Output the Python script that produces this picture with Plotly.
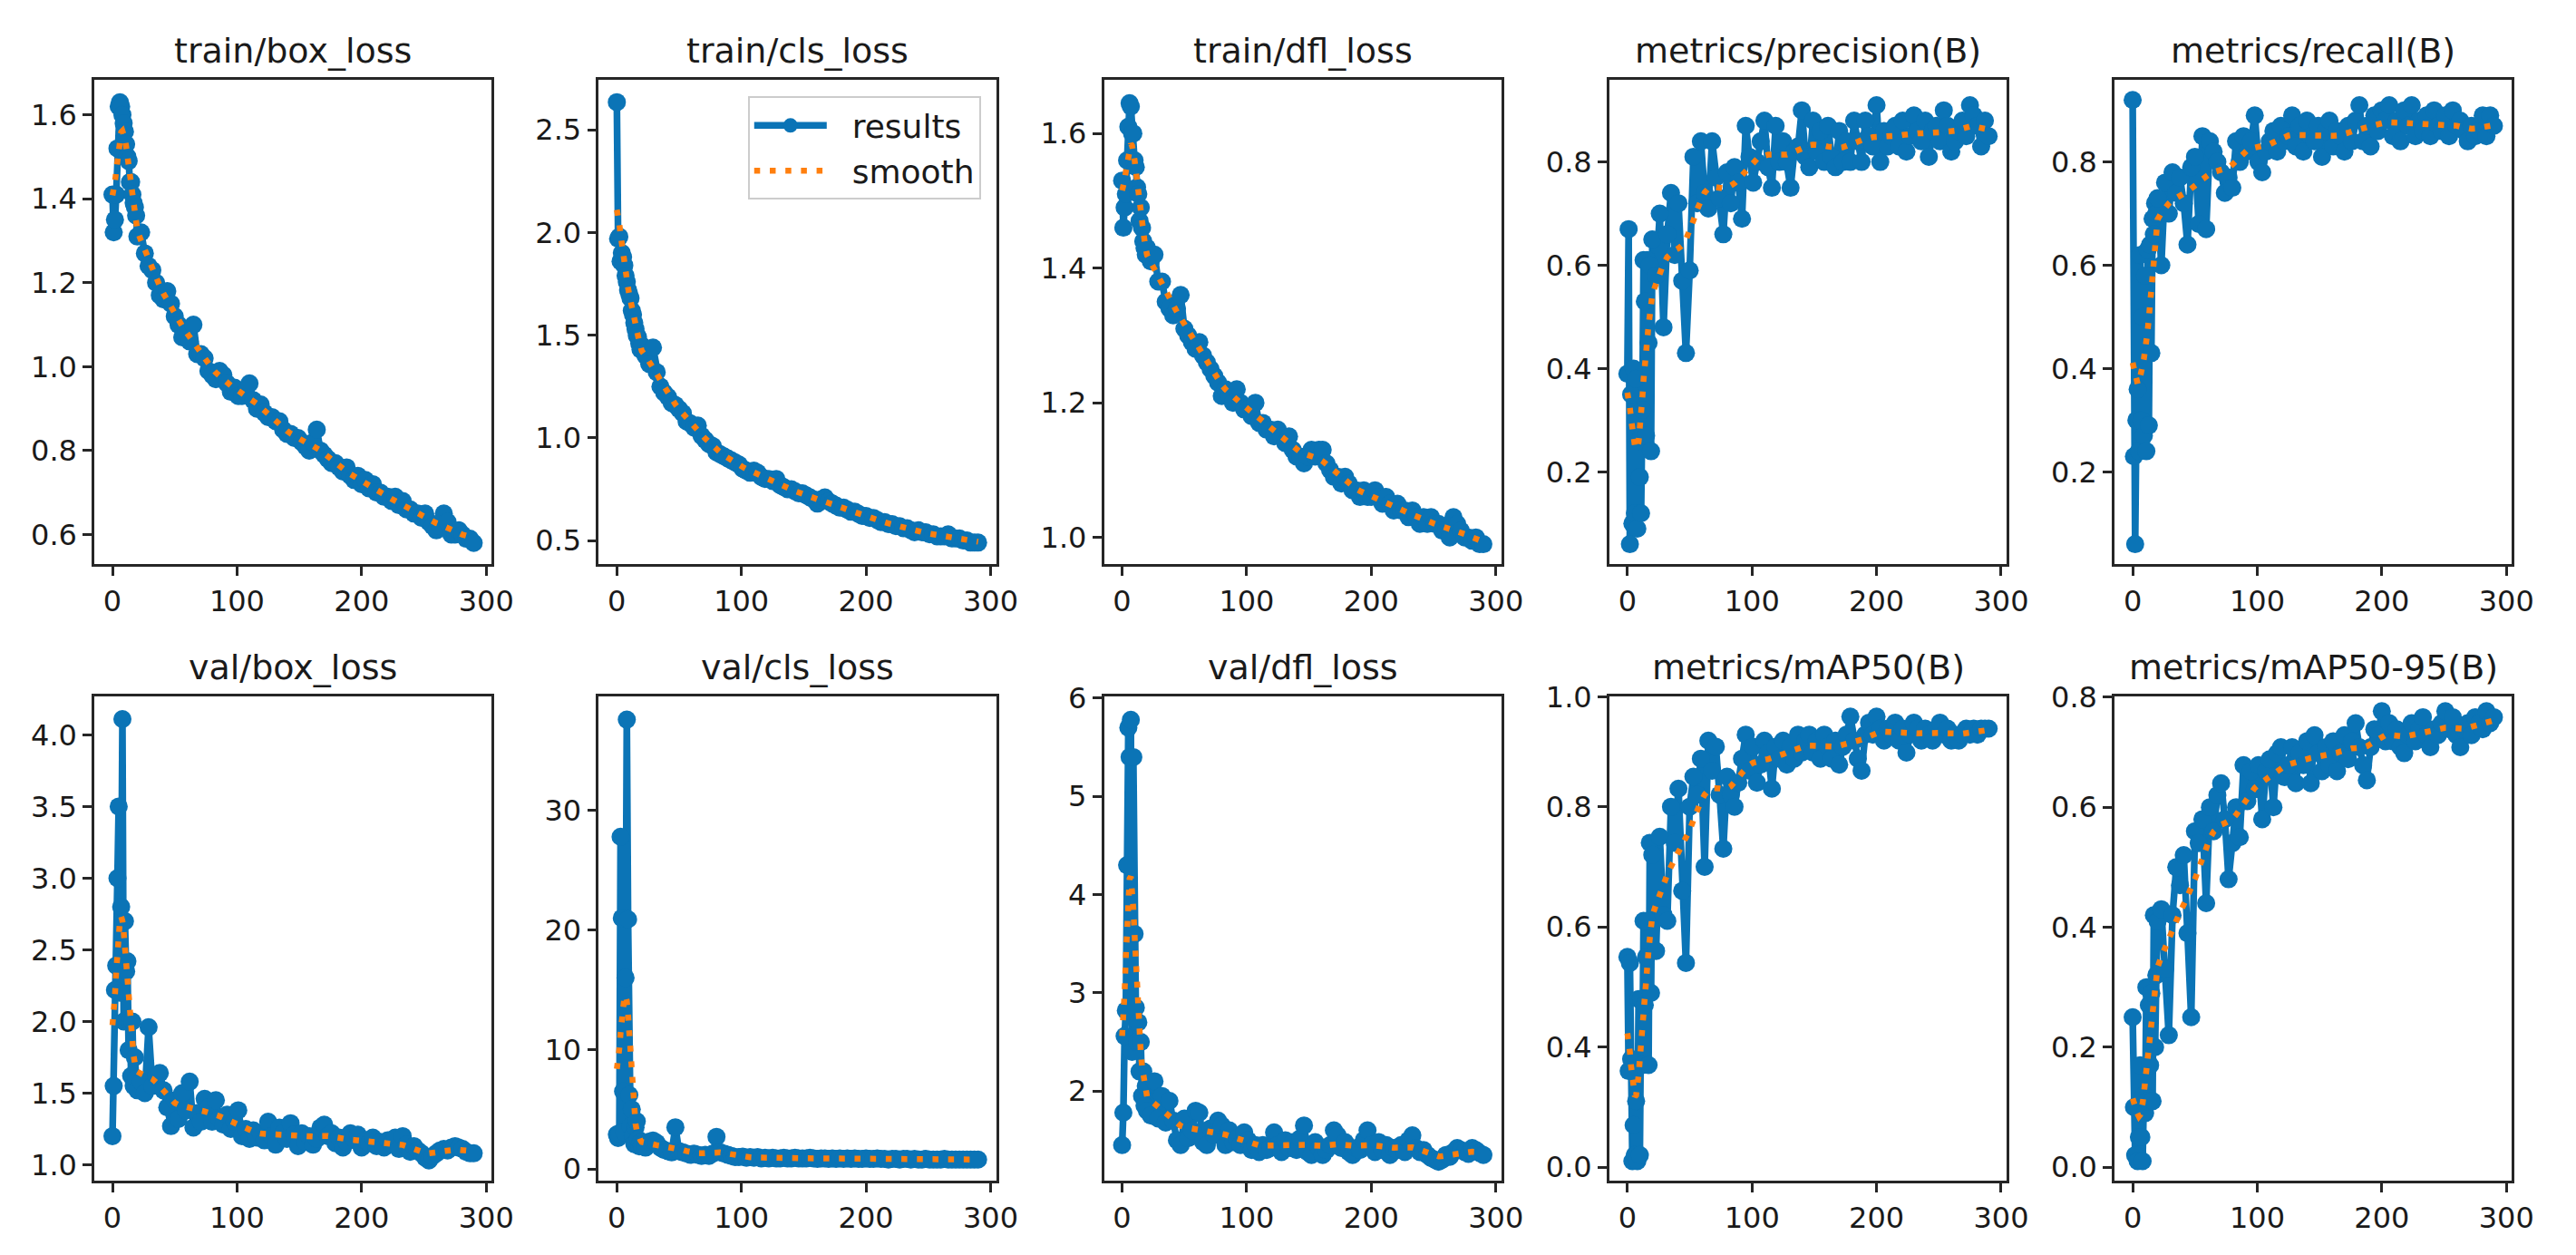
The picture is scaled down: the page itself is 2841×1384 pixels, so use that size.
import numpy as np
import plotly.graph_objects as go

epochs = list(range(0, 20)) + list(range(20, 291, 3))

train_box_loss = [
    1.41, 1.32, 1.35, 1.41, 1.52, 1.62, 1.63, 1.62, 1.60, 1.58,
    1.56, 1.53, 1.50, 1.49, 1.44, 1.44, 1.41, 1.39, 1.38, 1.36,
    1.31, 1.32, 1.27, 1.24, 1.23, 1.20, 1.17, 1.16, 1.18, 1.15,
    1.12, 1.10, 1.07, 1.09, 1.06, 1.10, 1.03, 1.03, 1.02, 0.99,
    0.98, 0.97, 0.99, 0.98, 0.96, 0.94, 0.95, 0.93, 0.93, 0.94,
    0.96, 0.92, 0.90, 0.91, 0.89, 0.88, 0.88, 0.87, 0.87, 0.85,
    0.84, 0.84, 0.83, 0.83, 0.82, 0.81, 0.80, 0.82, 0.85, 0.80,
    0.79, 0.78, 0.77, 0.77, 0.76, 0.75, 0.76, 0.74, 0.73, 0.74,
    0.72, 0.73, 0.71, 0.72, 0.70, 0.70, 0.69, 0.69, 0.68, 0.69,
    0.67, 0.68, 0.66, 0.66, 0.65, 0.65, 0.64, 0.65, 0.63, 0.62,
    0.61, 0.62, 0.65, 0.63, 0.60, 0.60, 0.61, 0.60, 0.59, 0.59,
    0.58]

train_cls_loss = [
    2.635, 1.97, 1.98, 1.86, 1.90, 1.88, 1.84, 1.79, 1.76, 1.72,
    1.70, 1.68, 1.62, 1.60, 1.56, 1.53, 1.50, 1.49, 1.46, 1.43,
    1.45, 1.40, 1.36, 1.44, 1.32, 1.25, 1.22, 1.20, 1.17, 1.16,
    1.14, 1.12, 1.08, 1.07, 1.05, 1.06, 1.01, 0.99, 0.97, 0.96,
    0.93, 0.92, 0.91, 0.90, 0.89, 0.88, 0.87, 0.85, 0.84, 0.83,
    0.84, 0.83, 0.81, 0.80, 0.80, 0.79, 0.80, 0.77, 0.76, 0.75,
    0.75, 0.74, 0.73, 0.73, 0.72, 0.71, 0.70, 0.68, 0.70, 0.71,
    0.69, 0.68, 0.67, 0.66, 0.66, 0.65, 0.64, 0.64, 0.63, 0.62,
    0.62, 0.61, 0.61, 0.60, 0.59, 0.59, 0.58, 0.58, 0.57, 0.57,
    0.56, 0.56, 0.55, 0.54, 0.55, 0.54, 0.54, 0.53, 0.53, 0.52,
    0.52, 0.52, 0.53, 0.51, 0.51, 0.51, 0.50, 0.50, 0.49, 0.49,
    0.49]

train_dfl_loss = [
    1.53, 1.46, 1.49, 1.51, 1.56, 1.61, 1.645, 1.64, 1.60, 1.60,
    1.56, 1.55, 1.52, 1.51, 1.47, 1.49, 1.46, 1.44, 1.43, 1.42,
    1.43, 1.41, 1.42, 1.38, 1.38, 1.35, 1.34, 1.33, 1.34, 1.36,
    1.31, 1.30, 1.29, 1.28, 1.29, 1.27, 1.26, 1.25, 1.24, 1.23,
    1.21, 1.22, 1.21, 1.20, 1.22, 1.20, 1.19, 1.19, 1.18, 1.20,
    1.17, 1.17, 1.16, 1.16, 1.15, 1.16, 1.15, 1.14, 1.15, 1.13,
    1.12, 1.12, 1.11, 1.12, 1.13, 1.12, 1.13, 1.13, 1.11, 1.10,
    1.09, 1.09, 1.08, 1.09, 1.08, 1.07, 1.07, 1.06, 1.07, 1.06,
    1.06, 1.07, 1.06, 1.05, 1.06, 1.05, 1.04, 1.05, 1.04, 1.04,
    1.03, 1.04, 1.03, 1.02, 1.03, 1.02, 1.03, 1.02, 1.02, 1.01,
    1.01, 1.00, 1.03, 1.02, 1.01, 1.00, 1.00, 0.995, 1.00, 0.99,
    0.99]

precision = [
    0.39, 0.67, 0.06, 0.35, 0.10, 0.40, 0.12, 0.38, 0.09, 0.26,
    0.19, 0.12, 0.32, 0.61, 0.53, 0.27, 0.61, 0.45, 0.60, 0.24,
    0.65, 0.58, 0.70, 0.48, 0.66, 0.74, 0.62, 0.72, 0.57, 0.43,
    0.59, 0.81, 0.72, 0.84, 0.74, 0.71, 0.84, 0.77, 0.73, 0.66,
    0.78, 0.72, 0.79, 0.76, 0.69, 0.87, 0.81, 0.76, 0.80, 0.84,
    0.88, 0.79, 0.75, 0.87, 0.80, 0.84, 0.80, 0.75, 0.82, 0.83,
    0.90, 0.81, 0.79, 0.88, 0.82, 0.86, 0.80, 0.87, 0.81, 0.79,
    0.86, 0.80, 0.84, 0.80, 0.88, 0.84, 0.80, 0.88, 0.85, 0.83,
    0.91, 0.80, 0.86, 0.83, 0.85, 0.87, 0.83, 0.88, 0.82, 0.85,
    0.89, 0.86, 0.84, 0.88, 0.81, 0.86, 0.87, 0.84, 0.90, 0.87,
    0.82, 0.84, 0.86, 0.88, 0.85, 0.91, 0.89, 0.87, 0.83, 0.88,
    0.85]

recall = [
    0.92, 0.23, 0.06, 0.30, 0.36, 0.24, 0.62, 0.30, 0.50, 0.27,
    0.58, 0.24, 0.63, 0.29, 0.64, 0.43, 0.69, 0.66, 0.72, 0.70,
    0.73, 0.60, 0.76, 0.70, 0.78, 0.74, 0.77, 0.72, 0.64, 0.79,
    0.81, 0.68, 0.85, 0.67, 0.84, 0.82, 0.80, 0.78, 0.74, 0.77,
    0.75, 0.84, 0.80, 0.85, 0.82, 0.84, 0.89, 0.80, 0.78, 0.82,
    0.84, 0.86, 0.82, 0.87, 0.84, 0.85, 0.89, 0.83, 0.87, 0.82,
    0.88, 0.85, 0.84, 0.87, 0.81, 0.86, 0.88, 0.83, 0.86, 0.85,
    0.82, 0.87, 0.84, 0.88, 0.91, 0.84, 0.87, 0.83, 0.89, 0.86,
    0.90, 0.88, 0.91, 0.85, 0.88, 0.84, 0.90, 0.87, 0.91, 0.85,
    0.88, 0.86, 0.89, 0.85, 0.90, 0.87, 0.86, 0.89, 0.85, 0.90,
    0.87, 0.88, 0.86, 0.84, 0.87, 0.85, 0.86, 0.89, 0.85, 0.89,
    0.87]

val_box_loss = [
    1.20, 1.55, 2.22, 2.39, 3.00, 3.50, 2.20, 2.80, 4.11, 2.00,
    2.70, 2.35, 2.42, 1.80, 2.00, 1.62, 2.00, 1.55, 1.75, 1.60,
    1.52, 1.58, 1.50, 1.96, 1.55, 1.62, 1.64, 1.52, 1.40, 1.27,
    1.45, 1.32, 1.50, 1.38, 1.58, 1.26, 1.36, 1.30, 1.46, 1.40,
    1.30, 1.45, 1.32, 1.28, 1.35, 1.25, 1.30, 1.38, 1.20, 1.25,
    1.18, 1.24, 1.19, 1.22, 1.17, 1.30, 1.20, 1.14, 1.26, 1.22,
    1.18, 1.29, 1.21, 1.13, 1.22, 1.16, 1.20, 1.14, 1.18, 1.26,
    1.28, 1.20, 1.22, 1.15, 1.19, 1.12, 1.16, 1.22, 1.18, 1.21,
    1.12, 1.17, 1.15, 1.19, 1.13, 1.16, 1.12, 1.17, 1.15, 1.19,
    1.11, 1.20, 1.14, 1.09, 1.13, 1.10, 1.08, 1.05, 1.03, 1.06,
    1.08, 1.10, 1.11, 1.10, 1.12, 1.13, 1.12, 1.11, 1.09, 1.08,
    1.08]

val_cls_loss = [
    2.9, 2.6, 3.0, 27.8, 21.0, 6.5, 3.1, 16.0, 37.6, 20.9,
    6.2, 3.6, 5.0, 2.8, 2.1, 3.5, 4.0, 2.5, 1.9, 2.2,
    2.0, 1.8, 2.3, 2.4, 2.2, 1.8, 1.6, 1.5, 1.4, 3.5,
    1.5, 1.4, 1.3, 1.2, 1.3, 1.2, 1.1, 1.2, 1.1, 1.3,
    2.7, 1.4, 1.3, 1.2, 1.1, 1.0, 1.0, 1.05, 0.95, 1.0,
    0.95, 1.0, 0.9, 0.95, 0.9, 0.95, 0.9, 0.9, 0.95, 0.9,
    0.9, 0.95, 0.9, 0.9, 0.9, 0.95, 0.9, 0.85, 0.9, 0.9,
    0.85, 0.9, 0.85, 0.9, 0.85, 0.9, 0.85, 0.9, 0.85, 0.85,
    0.9, 0.85, 0.85, 0.9, 0.85, 0.85, 0.8, 0.85, 0.85, 0.8,
    0.85, 0.85, 0.8, 0.85, 0.8, 0.8, 0.85, 0.8, 0.8, 0.8,
    0.8, 0.85, 0.8, 0.8, 0.8, 0.8, 0.8, 0.8, 0.8, 0.8,
    0.8]

val_dfl_loss = [
    1.45, 1.78, 2.56, 2.82, 4.30, 5.70, 5.40, 5.78, 2.40, 5.40,
    3.60, 2.85, 2.50, 2.70, 2.20, 2.50, 1.95, 2.20, 1.85, 2.05,
    1.80, 1.75, 2.10, 1.72, 1.95, 1.68, 1.90, 1.70, 1.50, 1.45,
    1.72, 1.52, 1.60, 1.80, 1.78, 1.48, 1.45, 1.62, 1.55, 1.70,
    1.65, 1.45, 1.60, 1.48, 1.52, 1.45, 1.58, 1.50, 1.40, 1.45,
    1.38, 1.45, 1.40, 1.42, 1.58, 1.45, 1.38, 1.50, 1.42, 1.48,
    1.40, 1.52, 1.65, 1.38, 1.35, 1.48, 1.42, 1.35, 1.40, 1.45,
    1.60, 1.55, 1.42, 1.48, 1.38, 1.35, 1.42, 1.40, 1.50, 1.60,
    1.45, 1.38, 1.48, 1.40, 1.45, 1.35, 1.42, 1.40, 1.45, 1.38,
    1.50, 1.55, 1.42, 1.38, 1.40, 1.35, 1.32, 1.30, 1.28, 1.30,
    1.35, 1.33, 1.38, 1.42, 1.40, 1.38, 1.36, 1.42, 1.40, 1.37,
    1.35]

map50 = [
    0.55, 0.36, 0.54, 0.38, 0.21, 0.27, 0.22, 0.31, 0.21, 0.48,
    0.22, 0.48, 0.37, 0.61, 0.47, 0.55, 0.61, 0.37, 0.74, 0.49,
    0.72, 0.56, 0.75, 0.62, 0.61, 0.80, 0.74, 0.83, 0.66, 0.54,
    0.80, 0.85, 0.82, 0.88, 0.70, 0.91, 0.86, 0.90, 0.82, 0.73,
    0.85, 0.82, 0.80, 0.84, 0.88, 0.92, 0.86, 0.90, 0.84, 0.87,
    0.91, 0.89, 0.83, 0.90, 0.88, 0.91, 0.87, 0.90, 0.88, 0.92,
    0.89, 0.91, 0.92, 0.89, 0.91, 0.88, 0.92, 0.90, 0.88, 0.91,
    0.87, 0.90, 0.92, 0.95, 0.91, 0.88, 0.86, 0.92, 0.94, 0.92,
    0.95, 0.93, 0.91, 0.93, 0.92, 0.94, 0.91, 0.93, 0.89, 0.92,
    0.94, 0.93, 0.91, 0.93, 0.92, 0.91, 0.93, 0.94, 0.92, 0.93,
    0.91, 0.92, 0.91, 0.92, 0.93, 0.92, 0.93, 0.92, 0.93, 0.93,
    0.93]

map50_95 = [
    0.25, 0.10, 0.02, 0.10, 0.01, 0.05, 0.17, 0.05, 0.01, 0.12,
    0.09, 0.30, 0.11, 0.27, 0.17, 0.29, 0.11, 0.42, 0.20, 0.32,
    0.41, 0.43, 0.33, 0.22, 0.42, 0.50, 0.47, 0.52, 0.39, 0.25,
    0.56, 0.54, 0.58, 0.44, 0.60, 0.56, 0.62, 0.64, 0.58, 0.48,
    0.54, 0.60, 0.55, 0.67, 0.61, 0.66, 0.63, 0.67, 0.58, 0.66,
    0.68, 0.60, 0.69, 0.70, 0.65, 0.67, 0.70, 0.64, 0.69, 0.67,
    0.71, 0.64, 0.72, 0.69, 0.66, 0.70, 0.67, 0.71, 0.66, 0.69,
    0.72, 0.68, 0.71, 0.74, 0.70, 0.67, 0.645, 0.70, 0.73, 0.72,
    0.76, 0.71, 0.74, 0.71, 0.73, 0.70, 0.69, 0.72, 0.74, 0.71,
    0.73, 0.75, 0.72, 0.70, 0.73, 0.72, 0.74, 0.76, 0.73, 0.75,
    0.72, 0.70, 0.73, 0.74, 0.72, 0.75, 0.74, 0.73, 0.76, 0.74,
    0.75]

titles = ["train/box_loss", "train/cls_loss", "train/dfl_loss",
          "metrics/precision(B)", "metrics/recall(B)",
          "val/box_loss", "val/cls_loss", "val/dfl_loss",
          "metrics/mAP50(B)", "metrics/mAP50-95(B)"]
series = [train_box_loss, train_cls_loss, train_dfl_loss, precision, recall,
          val_box_loss, val_cls_loss, val_dfl_loss, map50, map50_95]

x_ticks = [0, 100, 200, 300]
y_tickvals = [
    [0.6, 0.8, 1.0, 1.2, 1.4, 1.6],
    [0.5, 1.0, 1.5, 2.0, 2.5],
    [1.0, 1.2, 1.4, 1.6],
    [0.2, 0.4, 0.6, 0.8],
    [0.2, 0.4, 0.6, 0.8],
    [1.0, 1.5, 2.0, 2.5, 3.0, 3.5, 4.0],
    [0, 10, 20, 30],
    [2, 3, 4, 5, 6],
    [0.2, 0.4, 0.6, 0.8, 0.983],
    [0.0, 0.2, 0.4, 0.6, 0.784],
]
y_ticktext = [
    ["0.6", "0.8", "1.0", "1.2", "1.4", "1.6"],
    ["0.5", "1.0", "1.5", "2.0", "2.5"],
    ["1.0", "1.2", "1.4", "1.6"],
    ["0.2", "0.4", "0.6", "0.8"],
    ["0.2", "0.4", "0.6", "0.8"],
    ["1.0", "1.5", "2.0", "2.5", "3.0", "3.5", "4.0"],
    ["0", "10", "20", "30"],
    ["2", "3", "4", "5", "6"],
    ["0.0", "0.4", "0.6", "0.8", "1.0"],
    ["0.0", "0.2", "0.4", "0.6", "0.8"],
]
y_ranges = [[0.529, 1.684], [0.384, 2.745], [0.960, 1.680],
            [0.021, 0.9595], [0.021, 0.9595],
            [0.887, 4.27], [-0.99, 39.56], [1.085, 6.02],
            [0.177, 0.984], [-0.023, 0.785]]

BLUE = "#0b74b6"
ORANGE = "#ff7f0e"
W, H = 2841, 1384
col_left = [105, 666, 1228, 1790, 2352]
row_top = [71, 763]
pw, ph = 442, 544


def gauss_smooth(y, sigma=3):
    # same idea as gaussian_filter1d(y, sigma=3)
    y = np.asarray(y, dtype=float)
    r = int(4 * sigma + 0.5)
    k = np.exp(-0.5 * (np.arange(-r, r + 1) / sigma) ** 2)
    k /= k.sum()
    p = np.pad(y, r, mode="symmetric")
    return np.convolve(p, k, mode="valid")


fig = go.Figure()
font = "DejaVu Sans, Verdana, sans-serif"
annotations = []
for i, (title, vals) in enumerate(zip(titles, series)):
    r, c = divmod(i, 5)
    n = "" if i == 0 else str(i + 1)
    xd = [col_left[c] / W, (col_left[c] + pw) / W]
    yd = [1 - (row_top[r] + ph) / H, 1 - row_top[r] / H]
    fig.add_trace(go.Scatter(
        x=epochs, y=vals, mode="lines+markers", name="\u00a0\u00a0results",
        line=dict(color=BLUE, width=7.5), marker=dict(size=20, color=BLUE),
        xaxis="x" + n, yaxis="y" + n, showlegend=(i == 1)))
    fig.add_trace(go.Scatter(
        x=epochs, y=gauss_smooth(vals), mode="lines", name="\u00a0\u00a0smooth",
        line=dict(color=ORANGE, width=6.5, dash="6.5px,10.7px"),
        xaxis="x" + n, yaxis="y" + n, showlegend=(i == 1)))
    common = dict(showline=True, mirror=True, linecolor="#262626", linewidth=2.6,
                  ticks="outside", ticklen=10, tickwidth=2.6, tickcolor="#262626",
                  showgrid=False, zeroline=False,
                  tickfont=dict(family=font, size=32, color="#1a1a1a"))
    fig.layout["xaxis" + n] = dict(domain=xd, range=[-14.5, 304.5], anchor="y" + n,
                                   tickvals=x_ticks, ticktext=[str(t) for t in x_ticks],
                                   **common)
    fig.layout["yaxis" + n] = dict(domain=yd, range=y_ranges[i], anchor="x" + n,
                                   tickvals=y_tickvals[i], ticktext=y_ticktext[i],
                                   **common)
    annotations.append(dict(text=title, xref="paper", yref="paper",
                            x=(xd[0] + xd[1]) / 2, y=yd[1], xanchor="center",
                            yanchor="bottom", yshift=8, showarrow=False,
                            font=dict(family=font, size=38, color="#1a1a1a")))

fig.update_layout(
    width=W, height=H, autosize=False,
    margin=dict(l=0, r=0, t=0, b=0),
    paper_bgcolor="white", plot_bgcolor="white",
    annotations=annotations,
    legend=dict(x=1091 / W, y=1 - 90 / H, xanchor="right", yanchor="top",
                bgcolor="rgba(255,255,255,0.8)", bordercolor="#cccccc",
                borderwidth=2, itemwidth=80,
                font=dict(family=font, size=36, color="#1a1a1a")),
)

fig.write_html("out.html", config={"displayModeBar": False},
               post_script="document.body.style.margin='0';")
